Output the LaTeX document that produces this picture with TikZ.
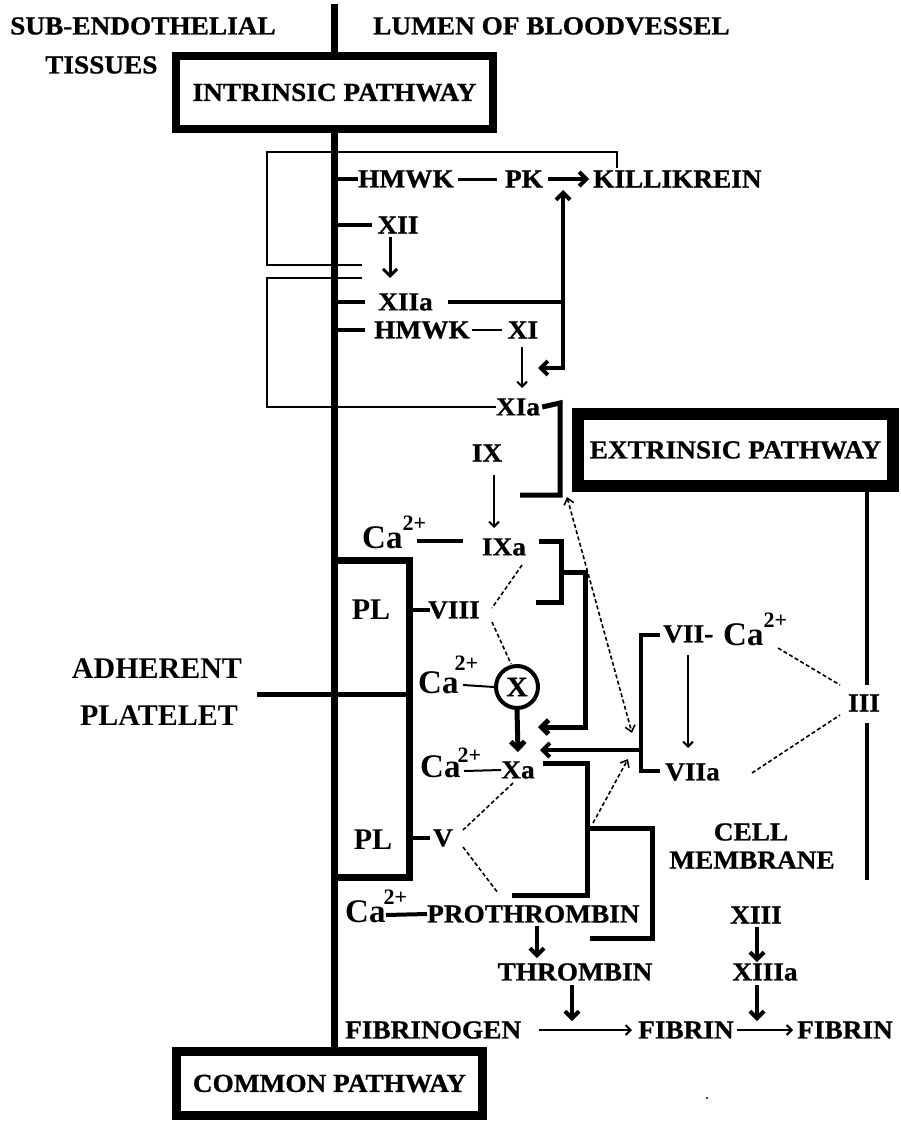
\documentclass[tikz,border=0pt]{standalone}
\usepackage{fontspec}
\newfontfamily\df[FakeStretch=1.05,FakeBold=0.8]{Liberation Serif}
\newfontfamily\cf{Liberation Serif}
\usetikzlibrary{arrows.meta}
\newcommand{\CaSup}[2]{{\cf\bfseries\fontsize{33}{36}\selectfont Ca}\kern#1\raisebox{#2}{\cf\bfseries\fontsize{22}{24}\selectfont 2+}}
\tikzset{
  lbl/.style={font=\df\bfseries\fontsize{26}{28}\selectfont, inner sep=0pt},
  big/.style={font=\cf\bfseries\fontsize{30}{32}\selectfont, inner sep=0pt},
  caz/.style={inner sep=0pt, anchor=base west},
  thk/.style={line width=5pt},
  tick/.style={line width=4pt},
  thn/.style={line width=2pt},
  dsh/.style={line width=1.6pt, dash pattern=on 4pt off 2.5pt},
  arT/.style={-{Straight Barb[length=7pt,width=14pt]}},
  arN/.style={-{Straight Barb[length=5pt,width=10pt]}},
  arD/.style={-{Straight Barb[length=6pt,width=10pt]}},
}
\begin{document}
\begin{tikzpicture}[x=1pt,y=-1pt]
\useasboundingbox (0,0) rectangle (901,1124);
\fill[white] (0,0) rectangle (901,1124);

% headers
\node[lbl,anchor=west] (sub) at (10,26) {SUB-ENDOTHELIAL};
\node[lbl,anchor=west] (tis) at (45,65) {TISSUES};
\node[lbl,anchor=west] (lum) at (373,26) {LUMEN OF BLOODVESSEL};

% boxes
\node[lbl, draw, line width=8pt, minimum width=317pt, minimum height=73pt] (intr) at (334.5,92.5) {INTRINSIC PATHWAY};
\node[lbl, draw, line width=9pt, minimum width=306pt, minimum height=64pt] (common) at (329.5,1083.5) {COMMON PATHWAY};
\node[lbl, draw, line width=12pt, minimum width=315pt, minimum height=72pt] (extr) at (735.5,450) {EXTRINSIC PATHWAY};
\node[draw, line width=7pt, minimum width=75pt, minimum height=317pt, inner sep=0pt] (plbox) at (371.5,718.5) {};

% main vertical line
\coordinate (mtop) at (334,4);
\draw[line width=7pt] (mtop) -- (mtop |- intr.north);
\draw[line width=7pt] (mtop |- intr.south) -- (mtop |- common.north);

% intrinsic nodes
\node[lbl] (hmwk1) at (406,179) {HMWK};
\node[lbl] (pk) at (524,179) {PK};
\node[lbl,anchor=west] (kill) at (593,179) {KILLIKREIN};
\node[lbl] (xii) at (398,225) {XII};
\node[lbl,anchor=west] (xiia) at (378,302) {XIIa};
\node[lbl] (hmwk2) at (422,330) {HMWK};
\node[lbl] (xi) at (523,330) {XI};
\node[lbl] (xia) at (518,407) {XIa};

\draw[tick] (334,179) -- (hmwk1.west);
\draw[line width=3pt] (hmwk1.east) ++(4,0) -- ([xshift=-8pt]pk.west);
\draw[tick,arT] ([xshift=5pt]pk.east) -- ([xshift=-4pt]kill.west);
\draw[tick] (334,225) -- (372,225);
\draw[line width=3pt,arT] (390,237) -- (390,278);
\draw[tick] (334,302) -- (365,302);
\draw[tick] (448,302) -- (563,302);
\coordinate (kj) at (563,302);
\draw[tick,arT] (kj) -- (563,190);
\draw[tick,arT] (kj) -- (563,368) -- (538,368);
\draw[tick] (334,330) -- (365,330);
\draw[thn] (472,330) -- (502,330);
\draw[thn,arN] (522,347) -- (522,388);

% thin brackets
\draw[thn] (362,265) -- (267,265) -- (267,152) -- (617,152) -- (617,168);
\draw[thn] (362,278) -- (267,278) -- (267,407) -- (xia.west);
% thick bracket from XIa
\draw[thk] ([xshift=2pt]xia.east) -- (560,403) -- (560,495) -- (520,495);

% extrinsic line
\node[lbl] (iii) at (864,703) {III};
\draw[tick] (867,492) -- (867,685);
\draw[tick] (867,723) -- (867,880);

% IX
\node[lbl] (ix) at (487,453) {IX};
\draw[thn,arN] (494,475) -- (494,528);
\node[caz] (ca1) at (362,548) {\CaSup{0pt}{18pt}};
\node[lbl] (ixa) at (504,547) {IXa};
\draw[tick] (417,541) -- (463,541);
\draw[thk] (539,541) -- (561,541) -- (561,602) -- (536,602);
\draw[thk,arT] (561,572) -- (585,572) -- (585,727) -- (538,727);

% platelet
\node[big] (pl1) at (371,610) {PL};
\node[big] (pl2) at (373,840) {PL};
\node[big] (adh) at (157,669) {ADHERENT};
\node[big] (plat) at (159,716) {PLATELET};
\draw[line width=5pt] (257,694) -- (plbox.east |- 0,694);

\node[lbl] (viii) at (454,610) {VIII};
\draw[tick] (plbox.east |- 0,610) -- (430,610);
\draw[dsh] (522,565) -- (492,608);
\node[circle, draw, line width=4pt, minimum size=42pt, inner sep=0pt, font=\df\bfseries\fontsize{28}{30}\selectfont] (x) at (517,687) {X};
\draw[dsh] (492,622) -- (511,664);
\node[caz] (ca2) at (418,693) {\CaSup{-4pt}{23pt}};
\draw[thn] (463,685) -- (x.west);
\draw[thk,arT] (x.south) -- (518,752);

% VII
\node[lbl,anchor=west] (vii) at (663,634) {VII-};
\node[caz] (ca5) at (723,645) {\CaSup{0pt}{18pt}};
\node[lbl,anchor=west] (viia) at (665,772) {VIIa};
\draw[tick] (660,635) -- (641,635) -- (641,771) -- (660,771);
\draw[tick,arT] (641,750) -- (540,750);
\draw[thn,arN] (688,655) -- (688,748);
\draw[dsh] (778,648) -- (840,685);
\draw[dsh] (752,773) -- (840,715);
\draw[dsh,{Straight Barb[length=6pt,width=10pt]}-{Straight Barb[length=6pt,width=10pt]}] (567,497) -- (632,733);

% Xa
\node[caz] (ca3) at (420,777) {\CaSup{-3pt}{15pt}};
\node[lbl] (xa) at (518,770) {Xa};
\draw[thn] (464,771) -- (xa.west);
\draw[thk] (543,763) -- (587,763) -- (587,895) -- (512,895);
\draw[thk] (587,828) -- (652,828) -- (652,938) -- (590,938);
\draw[dsh,arD] (593,823) -- (628,759);

\node[lbl] (v) at (443,838) {V};
\draw[tick] (plbox.east |- 0,838) -- (430,838);
\draw[dsh] (513,783) -- (463,830);
\draw[dsh] (463,847) -- (498,893);

% prothrombin
\node[caz] (ca4) at (345,922) {\CaSup{-2pt}{18pt}};
\node[lbl,anchor=west] (proth) at (427,914) {PROTHROMBIN};
\draw[tick] (386,915) -- (proth.west);
\node[lbl] (thromb) at (575,972) {THROMBIN};
\draw[tick,arT] (537,926) -- (537,958);
\draw[tick,arT] (572,985) -- (572,1021);
\node[lbl,anchor=west] (fibgen) at (345,1030) {FIBRINOGEN};
\node[lbl,anchor=west] (fib1) at (638,1030) {FIBRIN};
\node[lbl,anchor=east] (fib2) at (893,1030) {FIBRIN};
\draw[thn,arN] (539,1030) -- (632,1030);
\draw[thn,arN] ([xshift=3pt]fib1.east) -- ([xshift=-4pt]fib2.west);
\node[lbl] (xiii) at (756,915) {XIII};
\node[lbl] (xiiia) at (765,972) {XIIIa};
\draw[tick,arT] (757,927) -- (757,962);
\draw[tick,arT] (757,985) -- (757,1021);

% cell membrane
\node[lbl] (cell) at (751,832) {CELL};
\node[lbl] (memb) at (752,860) {MEMBRANE};

\fill (707,1098) circle (1.2pt);
\end{tikzpicture}
\end{document}
